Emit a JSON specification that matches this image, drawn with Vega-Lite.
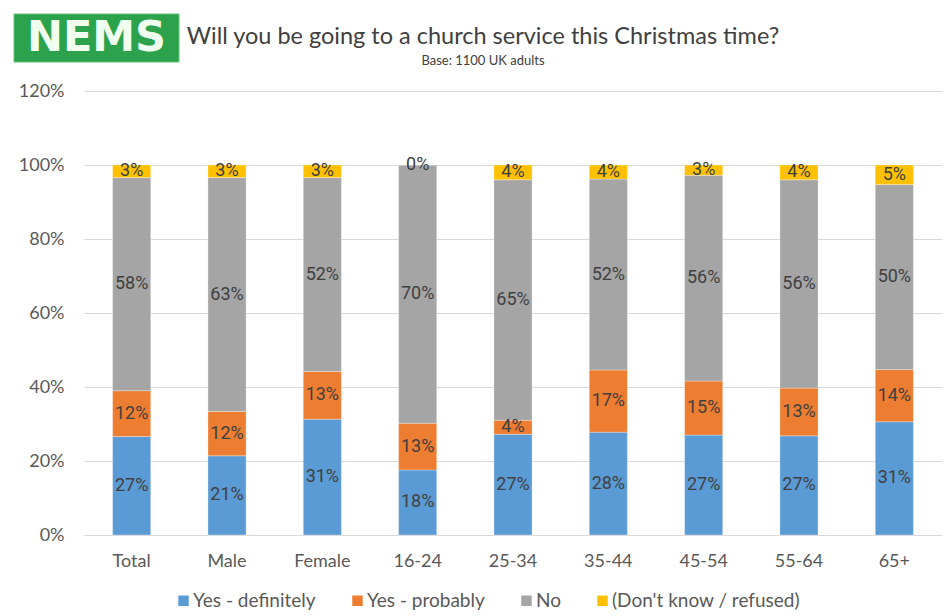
{
  "$schema": "https://vega.github.io/schema/vega-lite/v6.json",
  "background": "white",
  "padding": {"left": 13, "top": 13, "right": 0, "bottom": 0},
  "config": {
    "view": {"stroke": null},
    "font": "Lato"
  },
  "bounds": "flush",
  "center": true,
  "spacing": 29,
  "vconcat": [
    {
      "width": 998,
      "height": 48,
      "data": {"values": [{"logo": "NEMS", "title": "Will you be going to a church service this Christmas time?", "sub": "Base: 1100 UK adults"}]},
      "layer": [
        {
          "mark": {"type": "bar", "color": "#2ca24c", "stroke": "#62c27c", "strokeWidth": 1},
          "encoding": {
            "x": {"field": "logo", "type": "nominal", "scale": {"paddingInner": 0.6038, "paddingOuter": 1, "align": 0}, "axis": null}
          }
        },
        {
          "mark": {"type": "text", "font": "DejaVu Sans", "fontWeight": "bold", "fontSize": 43, "color": "#f0fff0", "baseline": "middle", "align": "center"},
          "encoding": {
            "x": {"field": "logo", "type": "nominal", "axis": null},
            "text": {"field": "logo"}
          }
        },
        {
          "mark": {"type": "text", "font": "Lato", "fontSize": 23.5, "color": "#404040", "baseline": "middle", "align": "center", "dx": -30, "dy": -1},
          "encoding": {"text": {"field": "title"}}
        },
        {
          "mark": {"type": "text", "font": "Lato", "fontSize": 13, "color": "#404040", "baseline": "middle", "align": "center", "dx": -30, "dy": 23},
          "encoding": {"text": {"field": "sub"}}
        }
      ]
    },
    {
      "width": 858,
      "height": 444,
      "data": {
        "values": [
          {"group": "Total", "response": "Yes - definitely", "value": 0.266},
          {"group": "Total", "response": "Yes - probably", "value": 0.124},
          {"group": "Total", "response": "No", "value": 0.576},
          {"group": "Total", "response": "(Don't know / refused)", "value": 0.034},
          {"group": "Male", "response": "Yes - definitely", "value": 0.214},
          {"group": "Male", "response": "Yes - probably", "value": 0.120},
          {"group": "Male", "response": "No", "value": 0.632},
          {"group": "Male", "response": "(Don't know / refused)", "value": 0.034},
          {"group": "Female", "response": "Yes - definitely", "value": 0.313},
          {"group": "Female", "response": "Yes - probably", "value": 0.129},
          {"group": "Female", "response": "No", "value": 0.524},
          {"group": "Female", "response": "(Don't know / refused)", "value": 0.034},
          {"group": "16-24", "response": "Yes - definitely", "value": 0.176},
          {"group": "16-24", "response": "Yes - probably", "value": 0.126},
          {"group": "16-24", "response": "No", "value": 0.698},
          {"group": "16-24", "response": "(Don't know / refused)", "value": 0.0},
          {"group": "25-34", "response": "Yes - definitely", "value": 0.272},
          {"group": "25-34", "response": "Yes - probably", "value": 0.038},
          {"group": "25-34", "response": "No", "value": 0.650},
          {"group": "25-34", "response": "(Don't know / refused)", "value": 0.040},
          {"group": "35-44", "response": "Yes - definitely", "value": 0.278},
          {"group": "35-44", "response": "Yes - probably", "value": 0.168},
          {"group": "35-44", "response": "No", "value": 0.516},
          {"group": "35-44", "response": "(Don't know / refused)", "value": 0.038},
          {"group": "45-54", "response": "Yes - definitely", "value": 0.270},
          {"group": "45-54", "response": "Yes - probably", "value": 0.146},
          {"group": "45-54", "response": "No", "value": 0.556},
          {"group": "45-54", "response": "(Don't know / refused)", "value": 0.028},
          {"group": "55-64", "response": "Yes - definitely", "value": 0.268},
          {"group": "55-64", "response": "Yes - probably", "value": 0.129},
          {"group": "55-64", "response": "No", "value": 0.563},
          {"group": "55-64", "response": "(Don't know / refused)", "value": 0.040},
          {"group": "65+", "response": "Yes - definitely", "value": 0.306},
          {"group": "65+", "response": "Yes - probably", "value": 0.141},
          {"group": "65+", "response": "No", "value": 0.500},
          {"group": "65+", "response": "(Don't know / refused)", "value": 0.053}
        ]
      },
      "transform": [
        {"calculate": "indexof(['Yes - definitely','Yes - probably','No','(Don\\'t know / refused)'], datum.response)", "as": "ord"},
        {"stack": "value", "groupby": ["group"], "sort": [{"field": "ord", "order": "ascending"}], "as": ["v0", "v1"]},
        {"calculate": "(datum.v0 + datum.v1) / 2", "as": "mid"}
      ],
      "encoding": {
        "x": {
          "field": "group",
          "type": "nominal",
          "sort": ["Total", "Male", "Female", "16-24", "25-34", "35-44", "45-54", "55-64", "65+"],
          "scale": {"paddingInner": 0.6, "paddingOuter": 0.3},
          "axis": {
            "title": null,
            "labelAngle": 0,
            "labelFontSize": 18,
            "labelColor": "#595959",
            "labelPadding": 17,
            "ticks": false,
            "domain": false
          }
        }
      },
      "layer": [
        {
          "mark": {"type": "bar", "stroke": "#ffffff", "strokeWidth": 0.5, "strokeOpacity": 0.6},
          "encoding": {
            "y": {
              "field": "v0",
              "type": "quantitative",
              "scale": {"domain": [0, 1.2]},
              "axis": {
                "title": null,
                "format": ".0%",
                "values": [0, 0.2, 0.4, 0.6, 0.8, 1.0, 1.2],
                "labelFontSize": 18,
                "labelColor": "#595959",
                "labelPadding": 20,
                "ticks": false,
                "domain": false,
                "gridColor": "#d9d9d9",
                "gridWidth": 1
              }
            },
            "y2": {"field": "v1"},
            "color": {
              "field": "response",
              "type": "nominal",
              "sort": ["Yes - definitely", "Yes - probably", "No", "(Don't know / refused)"],
              "scale": {
                "domain": ["Yes - definitely", "Yes - probably", "No", "(Don't know / refused)"],
                "range": ["#5b9bd5", "#ed7d31", "#a5a5a5", "#ffc000"]
              },
              "legend": {
                "title": null,
                "orient": "none",
                "legendX": 160,
                "legendY": 577,
                "padding": 0,
                "direction": "horizontal",
                "symbolType": "square",
                "symbolSize": 110,
                "symbolStrokeWidth": 0,
                "labelFontSize": 19,
                "labelColor": "#595959",
                "labelLimit": 400,
                "labelOffset": 0,
                "columnPadding": 32
              }
            }
          }
        },
        {
          "mark": {"type": "text", "font": "Roboto", "fontSize": 18, "color": "#404040", "baseline": "middle", "align": "center"},
          "encoding": {
            "y": {"field": "mid", "type": "quantitative"},
            "text": {"field": "value", "type": "quantitative", "format": ".0%"}
          }
        }
      ]
    }
  ]
}
